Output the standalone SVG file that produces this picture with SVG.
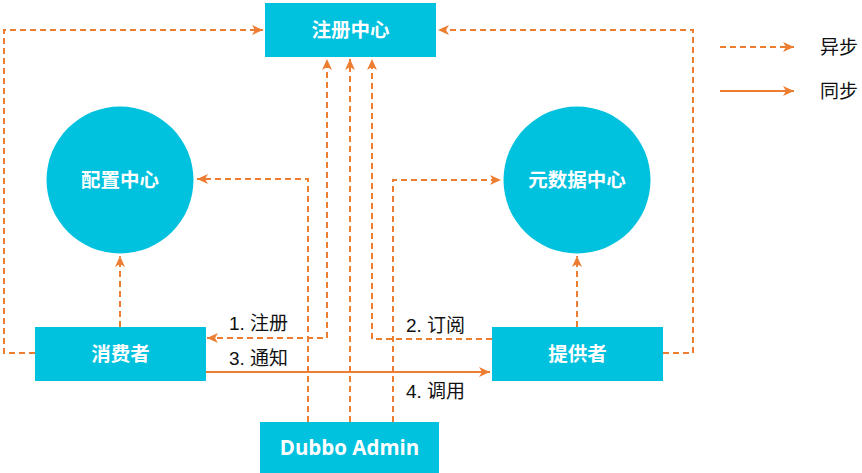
<svg xmlns="http://www.w3.org/2000/svg" width="862" height="473" viewBox="0 0 862 473">
<style>
.node{fill:#00C1DE}
.lbl{fill:#fff;font-family:"Liberation Sans","Noto Sans CJK SC",sans-serif;font-weight:bold;font-size:19.5px;text-anchor:middle;dominant-baseline:central}
.en{font-family:"Open Sans","Liberation Sans",sans-serif;font-size:20.5px}
.dash{fill:none;stroke:#ED7D31;stroke-width:2;stroke-dasharray:6 4}
.solid{fill:none;stroke:#ED7D31;stroke-width:2}
.txt{fill:#111;font-family:"Liberation Sans","Noto Sans CJK SC",sans-serif;font-size:19px}
</style>
<defs>
<marker id="ah" markerUnits="userSpaceOnUse" markerWidth="12" markerHeight="10" refX="11" refY="5" orient="auto-start-reverse">
<path d="M0,0 L11,5 L0,10 L3,5 z" fill="#ED7D31"/>
</marker>
</defs>
<rect width="862" height="473" fill="#fff"/>
<g id="connectors">
<path class="dash" d="M35,353 H4 V30 H263" marker-end="url(#ah)"/>
<path class="dash" d="M663,353 H693 V30 H438" marker-end="url(#ah)"/>
<path class="dash" d="M120,327 V256" marker-end="url(#ah)"/>
<path class="dash" d="M577,327 V256" marker-end="url(#ah)"/>
<path class="dash" d="M207,338 H327 V59" marker-start="url(#ah)" marker-end="url(#ah)"/>
<path class="dash" d="M350,422 V59" marker-end="url(#ah)"/>
<path class="dash" d="M492,339 H372 V59" marker-end="url(#ah)"/>
<path class="dash" d="M308,422 V179 H197" marker-end="url(#ah)"/>
<path class="dash" d="M393,422 V180 H501" marker-end="url(#ah)"/>
<path class="solid" d="M206,372 H490" marker-end="url(#ah)"/>
</g>
<g id="labels">
<text class="txt" x="229" y="330">1. 注册</text>
<text class="txt" x="229" y="365">3. 通知</text>
<text class="txt" x="406" y="332">2. 订阅</text>
<text class="txt" x="406" y="398">4. 调用</text>
</g>
<g id="registry"><rect class="node" x="265" y="3" width="171" height="54"/><text class="lbl" x="350.5" y="30">注册中心</text></g>
<g id="config"><circle class="node" cx="120" cy="180" r="73.5"/><text class="lbl" x="120" y="180">配置中心</text></g>
<g id="metadata"><circle class="node" cx="577" cy="180" r="73.5"/><text class="lbl" x="577" y="180">元数据中心</text></g>
<g id="consumer"><rect class="node" x="35" y="327" width="171" height="54"/><text class="lbl" x="120.5" y="354">消费者</text></g>
<g id="provider"><rect class="node" x="492" y="327" width="171" height="54"/><text class="lbl" x="577.5" y="354">提供者</text></g>
<g id="admin"><rect class="node" x="260" y="422" width="179" height="51"/><text class="lbl en" x="349.5" y="447">Dubbo Admin</text></g>
<g id="legend">
<path class="dash" d="M720,47 H794" marker-end="url(#ah)"/>
<path class="solid" d="M720,91 H794" marker-end="url(#ah)"/>
<text class="txt" x="820" y="54">异步</text>
<text class="txt" x="820" y="98">同步</text>
</g>
</svg>
